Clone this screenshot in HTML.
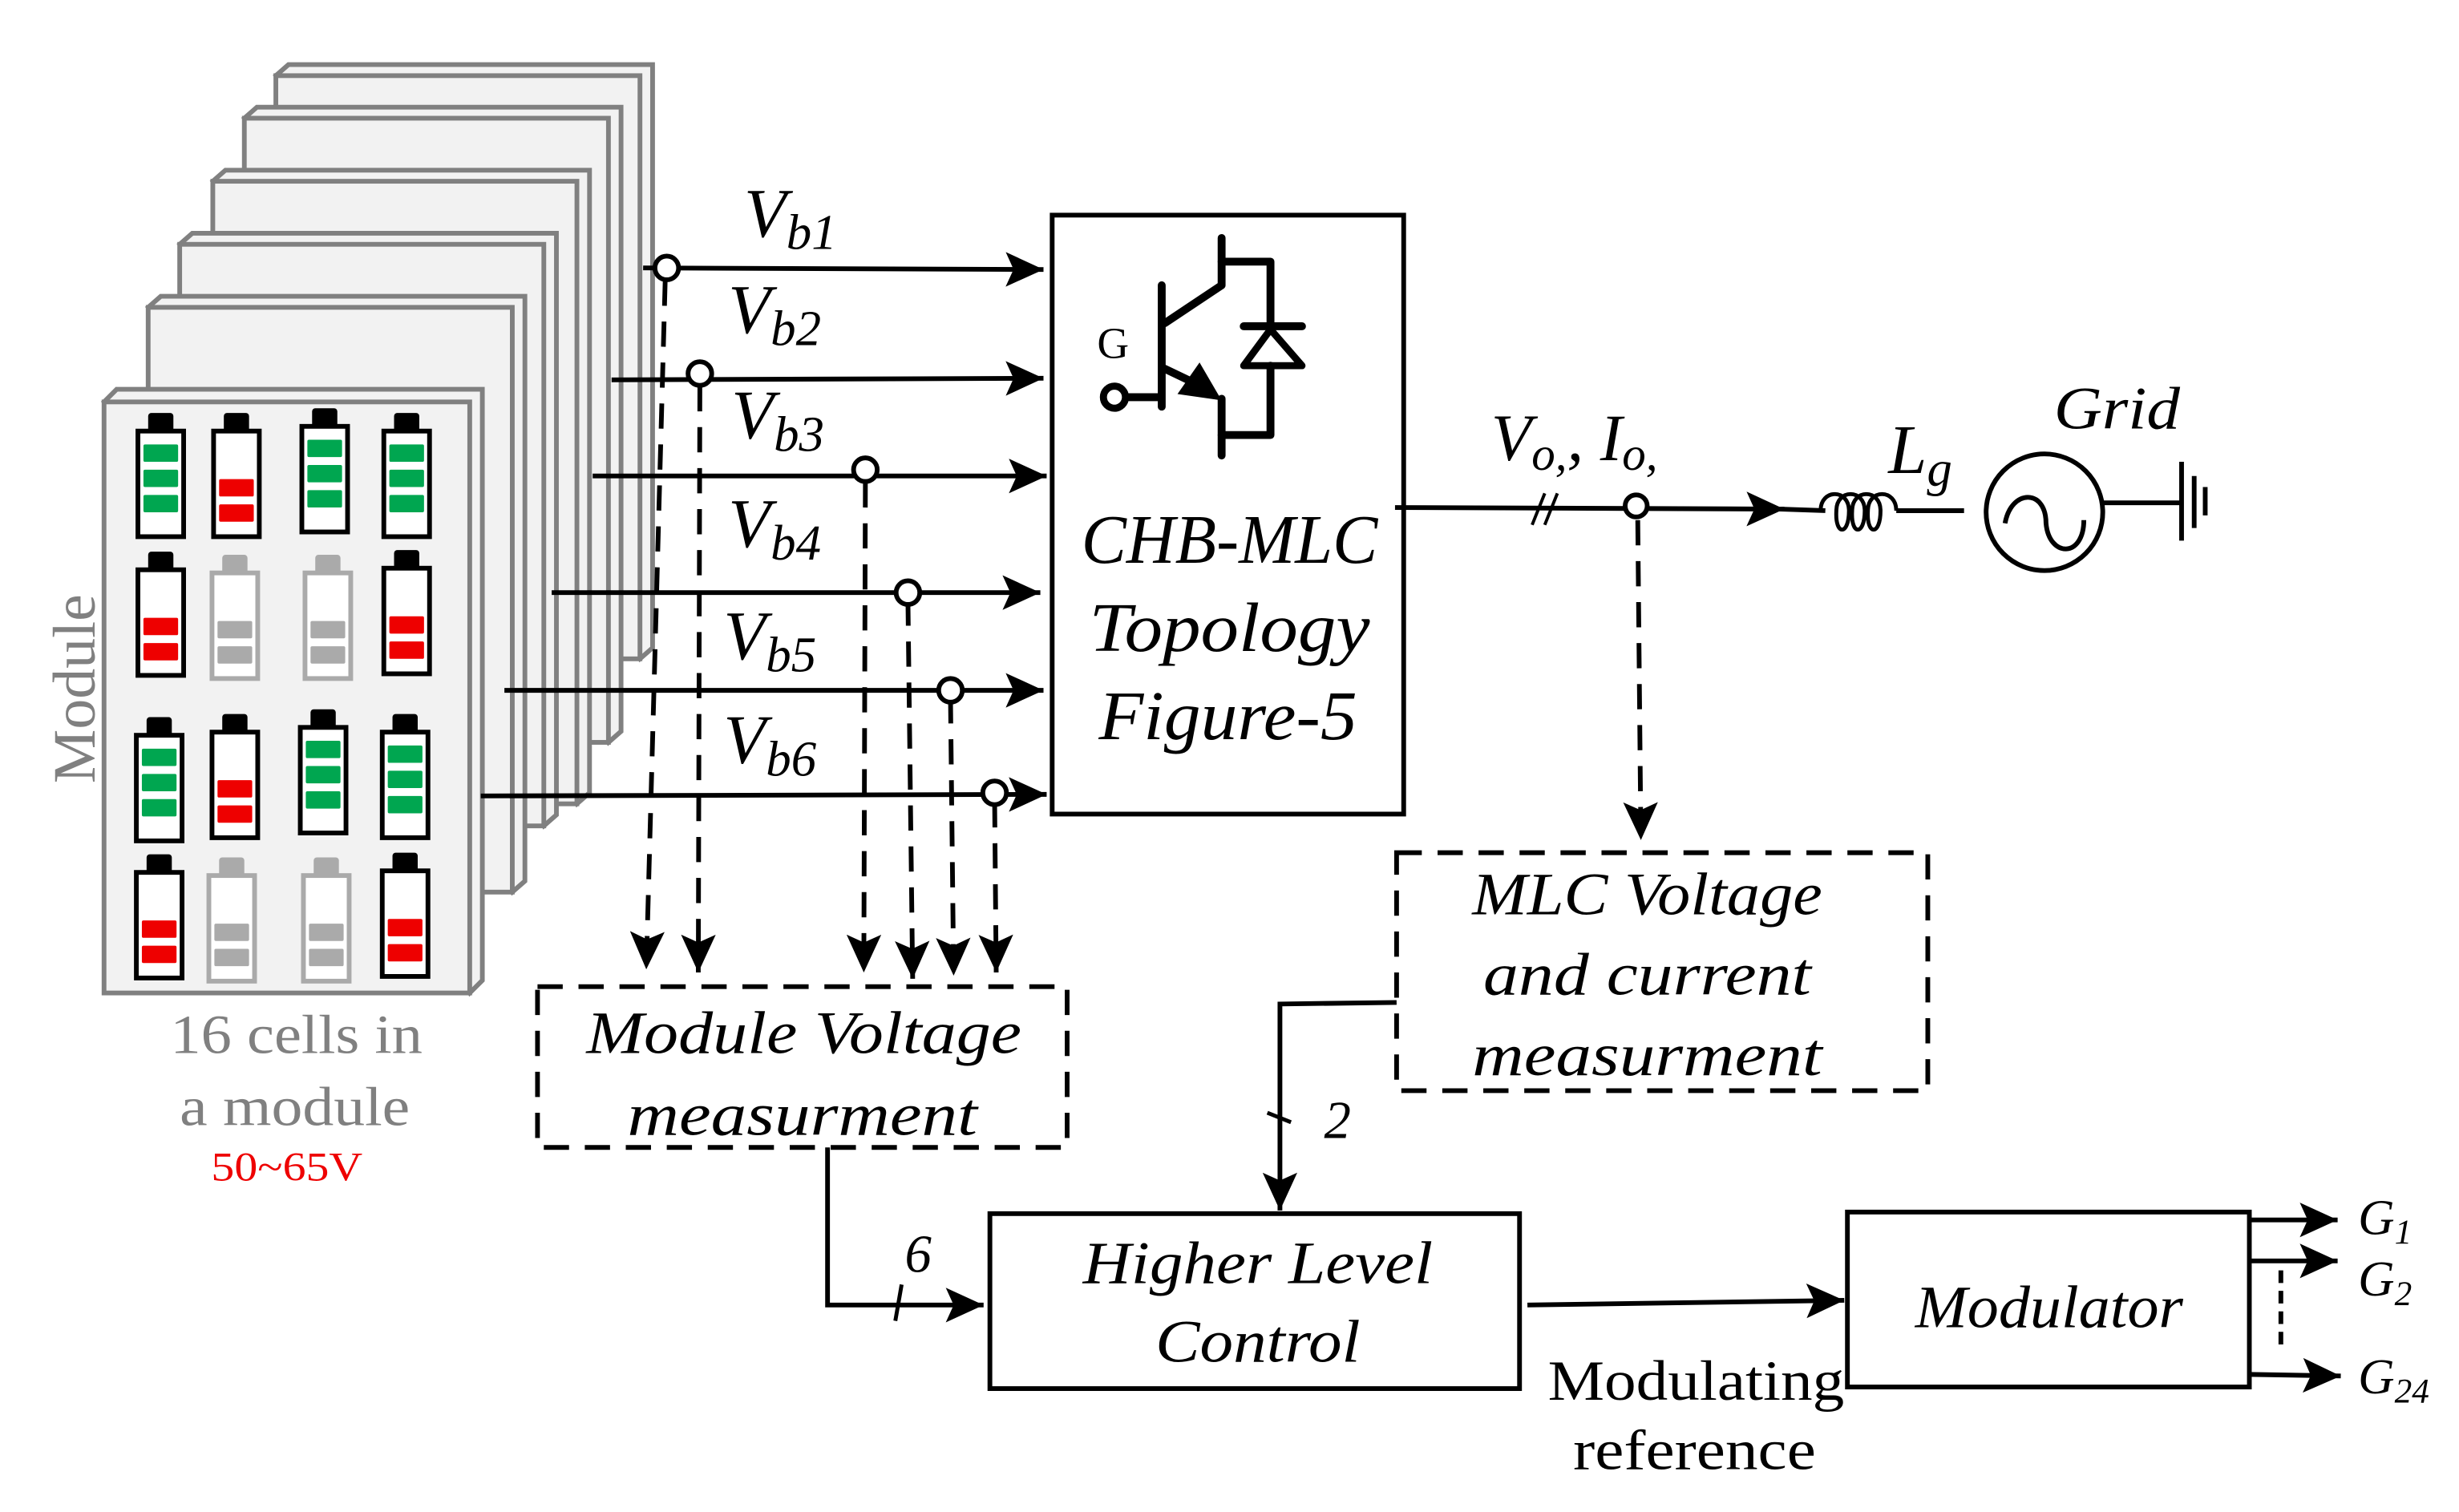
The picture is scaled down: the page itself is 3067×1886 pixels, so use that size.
<!DOCTYPE html>
<html><head><meta charset="utf-8"><style>
html,body{margin:0;padding:0;background:#fff}
svg{display:block}
text{font-family:"Liberation Serif",serif}
.it{font-style:italic}
</style></head><body>
<svg width="3067" height="1886" viewBox="0 0 1560 959.3" preserveAspectRatio="none" xmlns="http://www.w3.org/2000/svg">
<defs>
<marker id="ab" markerWidth="24" markerHeight="22" refX="24" refY="11" orient="auto" markerUnits="userSpaceOnUse" viewBox="0 0 24 22">
<path d="M0,0 L24,11 L0,22 L5,11 Z" fill="#000"/></marker>
<g id="bg"><rect x="8" y="0" width="16" height="14" rx="2" fill="#000"/><rect x="1.5" y="11.5" width="29" height="67" fill="#fff" stroke="#000" stroke-width="3"/><rect x="5" y="20" width="22" height="11" rx="1" fill="#00a650"/><rect x="5" y="36" width="22" height="11" rx="1" fill="#00a650"/><rect x="5" y="52" width="22" height="11" rx="1" fill="#00a650"/></g>
<g id="br"><rect x="8" y="0" width="16" height="14" rx="2" fill="#000"/><rect x="1.5" y="11.5" width="29" height="67" fill="#fff" stroke="#000" stroke-width="3"/><rect x="5" y="42" width="22" height="11" rx="1" fill="#e00"/><rect x="5" y="58" width="22" height="11" rx="1" fill="#e00"/></g>
<g id="bw"><rect x="8" y="0" width="16" height="14" rx="2" fill="#aaa"/><rect x="1.5" y="11.5" width="29" height="67" fill="#fff" stroke="#aaa" stroke-width="3"/><rect x="5" y="42" width="22" height="11" rx="1" fill="#aaa"/><rect x="5" y="58" width="22" height="11" rx="1" fill="#aaa"/></g>
</defs>

<g stroke="#808080" stroke-width="3" fill="#f2f2f2">
<path d="M175,48 l8,-7 h231 v370 l-8,7 z"/><rect x="175" y="48" width="231" height="370"/>
<path d="M155,75 l8,-7 h231 v396 l-8,7 z"/><rect x="155" y="75" width="231" height="396"/>
<path d="M135,115 l8,-7 h231 v395 l-8,7 z"/><rect x="135" y="115" width="231" height="395"/>
<path d="M114,155 l8,-7 h231 v369 l-8,7 z"/><rect x="114" y="155" width="231" height="369"/>
<path d="M94,195 l8,-7 h231 v371 l-8,7 z"/><rect x="94" y="195" width="231" height="371"/>
<path d="M66,255 l8,-8 h232 v375 l-8,8 z"/><rect x="66" y="255" width="232" height="375"/>
</g>
<use href="#bg" x="86" y="262"/><use href="#br" x="134" y="262"/><use href="#bg" x="190" y="259"/><use href="#bg" x="242" y="262"/>
<use href="#br" x="86" y="350"/><use href="#bw" x="133" y="352"/><use href="#bw" x="192" y="352"/><use href="#br" x="242" y="349"/>
<use href="#bg" x="85" y="455"/><use href="#br" x="133" y="453"/><use href="#bg" x="189" y="450"/><use href="#bg" x="241" y="453"/>
<use href="#br" x="85" y="542"/><use href="#bw" x="131" y="544"/><use href="#bw" x="191" y="544"/><use href="#br" x="241" y="541"/>
<text x="60" y="437" font-size="38" fill="#808080" text-anchor="middle" transform="rotate(-90 60 437)" textLength="120" lengthAdjust="spacingAndGlyphs">Module</text>
<text x="188" y="668" font-size="35" fill="#808080" text-anchor="middle" textLength="160" lengthAdjust="spacingAndGlyphs">16 cells in</text>
<text x="187" y="714" font-size="35" fill="#808080" text-anchor="middle" textLength="146" lengthAdjust="spacingAndGlyphs">a module</text>
<text x="182" y="749" font-size="26" fill="#e00" text-anchor="middle" textLength="96" lengthAdjust="spacingAndGlyphs">50~65V</text>

<g stroke="#000" stroke-width="3" fill="none">
<line x1="408" y1="170" x2="662" y2="171" marker-end="url(#ab)"/>
<line x1="388" y1="241" x2="662" y2="240" marker-end="url(#ab)"/>
<line x1="376" y1="302" x2="664" y2="302" marker-end="url(#ab)"/>
<line x1="350" y1="376" x2="660" y2="376" marker-end="url(#ab)"/>
<line x1="320" y1="438" x2="662" y2="438" marker-end="url(#ab)"/>
<line x1="305" y1="505" x2="664" y2="504" marker-end="url(#ab)"/>
</g>
<g stroke="#000" stroke-width="3" fill="none" stroke-dasharray="16,10">
<line x1="422" y1="178" x2="410" y2="615" marker-end="url(#ab)"/>
<line x1="444" y1="245" x2="443" y2="617" marker-end="url(#ab)"/>
<line x1="549" y1="306" x2="548" y2="617" marker-end="url(#ab)"/>
<line x1="576" y1="381" x2="579" y2="621" marker-end="url(#ab)"/>
<line x1="603" y1="443" x2="605" y2="619" marker-end="url(#ab)"/>
<line x1="631" y1="509" x2="632" y2="617" marker-end="url(#ab)"/>
</g>
<g stroke="#000" stroke-width="3" fill="#fff">
<circle cx="423" cy="170" r="7.5"/><circle cx="444" cy="237" r="7.5"/><circle cx="549" cy="298" r="7.5"/>
<circle cx="576" cy="376" r="7.5"/><circle cx="603" cy="438" r="7.5"/><circle cx="631" cy="503" r="7.5"/>
</g>
<g class="it" font-size="44">
<text x="472" y="150">V<tspan font-size="32" dy="8">b1</tspan></text>
<text x="462" y="211">V<tspan font-size="32" dy="8">b2</tspan></text>
<text x="464" y="278">V<tspan font-size="32" dy="8">b3</tspan></text>
<text x="462" y="347">V<tspan font-size="32" dy="8">b4</tspan></text>
<text x="459" y="418">V<tspan font-size="32" dy="8">b5</tspan></text>
<text x="459" y="484">V<tspan font-size="32" dy="8">b6</tspan></text>
</g>

<rect x="667.5" y="136.5" width="223" height="380" fill="none" stroke="#000" stroke-width="3"/>
<g stroke="#000" stroke-width="5" fill="none" stroke-linecap="round" stroke-linejoin="round">
<line x1="737" y1="181" x2="737" y2="258"/>
<polyline points="775,151 775,181 739,205"/>
<polyline points="739,234 762,245"/>
<polyline points="775,253 775,289"/>
<polyline points="775,166 806,166 806,207"/>
<polyline points="806,232 806,276 775,276"/>
<line x1="789" y1="207" x2="826" y2="207"/>
<path d="M806,209 L826,232 L789,232 Z" stroke-width="4.5"/>
<line x1="712" y1="252" x2="735" y2="252"/>
</g>
<circle cx="707" cy="252" r="7" fill="#fff" stroke="#000" stroke-width="4.5"/>
<path d="M761,230 L747,250 L775,254 Z" fill="#000"/>
<text x="696" y="227" font-size="28">G</text>
<g class="it" font-size="44" text-anchor="middle">
<text x="780" y="357" textLength="188" lengthAdjust="spacingAndGlyphs">CHB-MLC</text>
<text x="780" y="413" textLength="178" lengthAdjust="spacingAndGlyphs">Topology</text>
<text x="779" y="469" textLength="164" lengthAdjust="spacingAndGlyphs">Figure-5</text>
</g>

<g stroke="#000" stroke-width="3" fill="none">
<line x1="885" y1="322" x2="1132" y2="323" marker-end="url(#ab)"/>
<line x1="1130" y1="323" x2="1158" y2="324"/>
<line x1="972" y1="333" x2="980" y2="313" stroke-width="2"/><line x1="980" y1="333" x2="988" y2="313" stroke-width="2"/>
<path d="M1155,324 c0,-14 18,-14 18,0 c0,16 -9,16 -8,0 c0,-14 18,-14 18,0 c0,16 -9,16 -8,0 c0,-14 18,-14 18,0 c0,16 -9,16 -8,0 c0,-14 18,-14 18,0" stroke-width="2.5"/>
<line x1="1203" y1="324" x2="1246" y2="324"/>
<circle cx="1297" cy="325" r="37"/>
<path d="M1272,332 c4,-22 26,-22 26,0 c2,22 24,22 24,-2" stroke-width="3"/>
<line x1="1334" y1="319" x2="1383" y2="319"/>
<line x1="1384" y1="293" x2="1384" y2="343"/><line x1="1392" y1="302" x2="1392" y2="335"/><line x1="1399" y1="309" x2="1399" y2="327"/>
<line x1="1039" y1="330" x2="1041" y2="533" stroke-dasharray="16,10" marker-end="url(#ab)"/>
</g>
<circle cx="1038" cy="321" r="7" fill="#fff" stroke="#000" stroke-width="3"/>
<text class="it" x="946" y="292" font-size="42">V<tspan font-size="30" dy="6">o,</tspan><tspan dy="-6">, I</tspan><tspan font-size="30" dy="6">o,</tspan></text>
<text class="it" x="1198" y="300" font-size="44">L<tspan font-size="32" dy="8">g</tspan></text>
<text class="it" x="1303" y="272" font-size="38" textLength="80" lengthAdjust="spacingAndGlyphs">Grid</text>

<g stroke="#000" stroke-width="3" fill="none" stroke-dasharray="16,10">
<rect x="341" y="626" width="336" height="102"/>
<rect x="886" y="541" width="337" height="151"/>
</g>
<g class="it" font-size="38" text-anchor="middle">
<text x="510" y="668" textLength="276" lengthAdjust="spacingAndGlyphs">Module Voltage</text>
<text x="509" y="720" textLength="222" lengthAdjust="spacingAndGlyphs">measurment</text>
<text x="1045" y="580" textLength="222" lengthAdjust="spacingAndGlyphs">MLC Voltage</text>
<text x="1045" y="631" textLength="208" lengthAdjust="spacingAndGlyphs">and current</text>
<text x="1045" y="682" textLength="222" lengthAdjust="spacingAndGlyphs">measurment</text>
</g>

<g stroke="#000" stroke-width="3" fill="none">
<polyline points="886,636 812,637 812,768" marker-end="url(#ab)"/>
<line x1="804" y1="706" x2="819" y2="712" stroke-width="2.5"/>
<polyline points="525,728 525,828 624,828" marker-end="url(#ab)"/>
<line x1="568" y1="838" x2="572" y2="815" stroke-width="2.5"/>
<rect x="628" y="770" width="336" height="111"/>
<line x1="969" y1="828" x2="1170" y2="825" marker-end="url(#ab)"/>
<rect x="1172" y="769" width="255" height="111"/>
<line x1="1427" y1="774" x2="1483" y2="774" marker-end="url(#ab)"/>
<line x1="1427" y1="800" x2="1483" y2="800" marker-end="url(#ab)"/>
<line x1="1427" y1="872" x2="1485" y2="873" marker-end="url(#ab)"/>
<line x1="1447" y1="806" x2="1447" y2="858" stroke-dasharray="8,5"/>
</g>
<text class="it" x="840" y="722" font-size="34">2</text>
<text class="it" x="574" y="807" font-size="34">6</text>
<g class="it" font-size="38" text-anchor="middle">
<text x="798" y="814" textLength="222" lengthAdjust="spacingAndGlyphs">Higher Level</text>
<text x="798" y="864" textLength="130" lengthAdjust="spacingAndGlyphs">Control</text>
<text x="1300" y="842" textLength="170" lengthAdjust="spacingAndGlyphs">Modulator</text>
</g>
<text x="1076" y="888" font-size="36" text-anchor="middle" textLength="188" lengthAdjust="spacingAndGlyphs">Modulating</text>
<text x="1075" y="932" font-size="36" text-anchor="middle" textLength="154" lengthAdjust="spacingAndGlyphs">reference</text>
<g class="it" font-size="32">
<text x="1496" y="783">G<tspan font-size="22" dy="6">1</tspan></text>
<text x="1496" y="822">G<tspan font-size="22" dy="6">2</tspan></text>
<text x="1496" y="884">G<tspan font-size="22" dy="6">24</tspan></text>
</g>
</svg>
</body></html>
